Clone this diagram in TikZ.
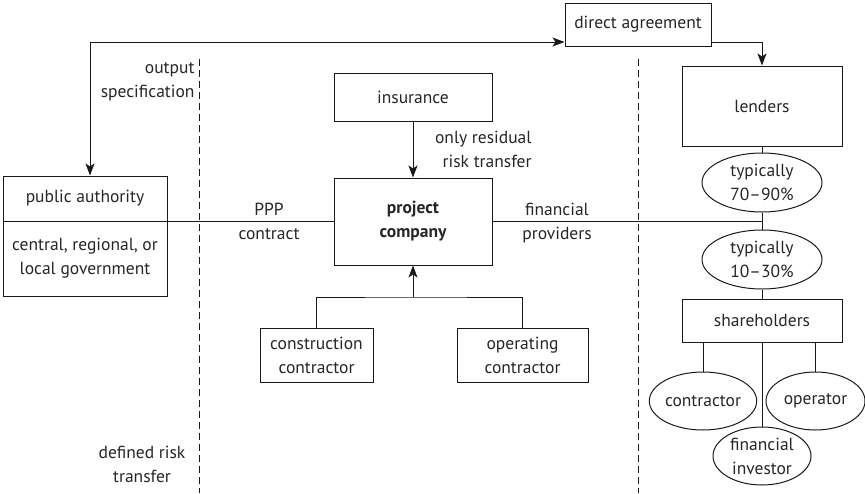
\documentclass[tikz,border=0pt]{standalone}
\usepackage{fontspec}
\setmainfont{PT Sans}
\usepackage{tikz}
\usetikzlibrary{shapes.geometric,arrows.meta}

\tikzset{
  box/.style={draw,rectangle,inner sep=0pt,align=center},
  oval/.style={draw,ellipse,inner sep=0pt,align=center},
  lbl/.style={inner sep=0pt},
  arr/.style={-{Stealth[length=12pt,width=9pt,inset=3pt]}},
  divider/.style={dashed,dash pattern=on 7pt off 4pt}
}

\begin{document}
\begin{tikzpicture}[x=1pt,y=-1pt,line width=1pt,draw=black!90,text=black!85,
    font=\fontsize{17.5}{24}\selectfont]
    \useasboundingbox (0,0) rectangle (865,493);

    % separators
    \draw[divider] (199,59) -- (199,493);
    \draw[divider] (638,59) -- (638,493);

    % public side
    \node[box,minimum width=164pt,minimum height=45pt] (pub) at (85,198.5) {public authority};
    \node[box,minimum width=164pt,minimum height=75pt] (gov) at (85,258.5) {central, regional, or\\local government};

    % project company and its contractors
    \node[box,minimum width=158pt,minimum height=48pt] (ins) at (413,97) {insurance};
    \node[box,minimum width=158pt,minimum height=87pt,font=\fontsize{17.5}{24}\selectfont\bfseries] (pc) at (413,221.5) {project\\company};
    \node[box,minimum width=113pt,minimum height=54pt] (cc) at (316.5,355) {construction\\contractor};
    \node[box,minimum width=131pt,minimum height=54pt] (oc) at (522.5,355) {operating\\contractor};

    % finance side
    \node[box,minimum width=146pt,minimum height=43pt] (da) at (638,24.5) {direct agreement};
    \node[box,minimum width=160pt,minimum height=80pt] (len) at (762,106) {lenders};
    \node[oval,minimum width=120pt,minimum height=59pt] (e1) at (762,182.5) {typically\\70--90\%};
    \node[oval,minimum width=120pt,minimum height=59pt] (e2) at (762,259.5) {typically\\10--30\%};
    \node[box,minimum width=160pt,minimum height=43pt] (sh) at (762,320.5) {shareholders};
    \node[oval,minimum width=98pt,minimum height=58pt] (con) at (703,401) {contractor};
    \node[oval,minimum width=99pt,minimum height=58pt] (opr) at (815.5,401) {operator};
    \node[oval,minimum width=98pt,minimum height=58pt] (fin) at (762,456) {financial\\investor};

    % labels
    \node[lbl,align=right,anchor=east] (outspec) at (195,81.5) {output\\specification};
    \node[lbl,align=center] (defrisk) at (142,464) {defined risk\\transfer};
    \node[lbl,align=center] (ppp) at (269,221.5) {PPP\\contract};
    \node[lbl,align=center] (finprov) at (557,223) {financial\\providers};
    \node[lbl,align=right,anchor=east] (resid) at (532,149.5) {only residual\\risk transfer};

    % connectors
    \coordinate (tl) at (90,42);
    \coordinate (jn) at (413,297);
    \draw[arr] (tl) -- (da.west |- tl);
    \draw[arr] (tl) -- (tl |- pub.north);
    \draw[arr] (da.east |- tl) -| (len.north);
    \draw[arr] (ins) -- (pc);
    \draw (pub.south east) -- (pc.west |- pub.south east);
    \draw (pc.east |- pub.south east) -- (e1 |- pub.south east);
    \draw (len) -- (e1);
    \draw (e1) -- (e2);
    \draw (e2) -- (sh);
    \draw (sh.south -| con) -- (con.north);
    \draw (sh.south -| opr) -- (opr.north);
    \draw (sh) -- (fin);
    \draw (cc.north) |- (jn) -| (oc.north);
    \draw[arr] (jn) -- (pc.south);
\end{tikzpicture}
\end{document}
